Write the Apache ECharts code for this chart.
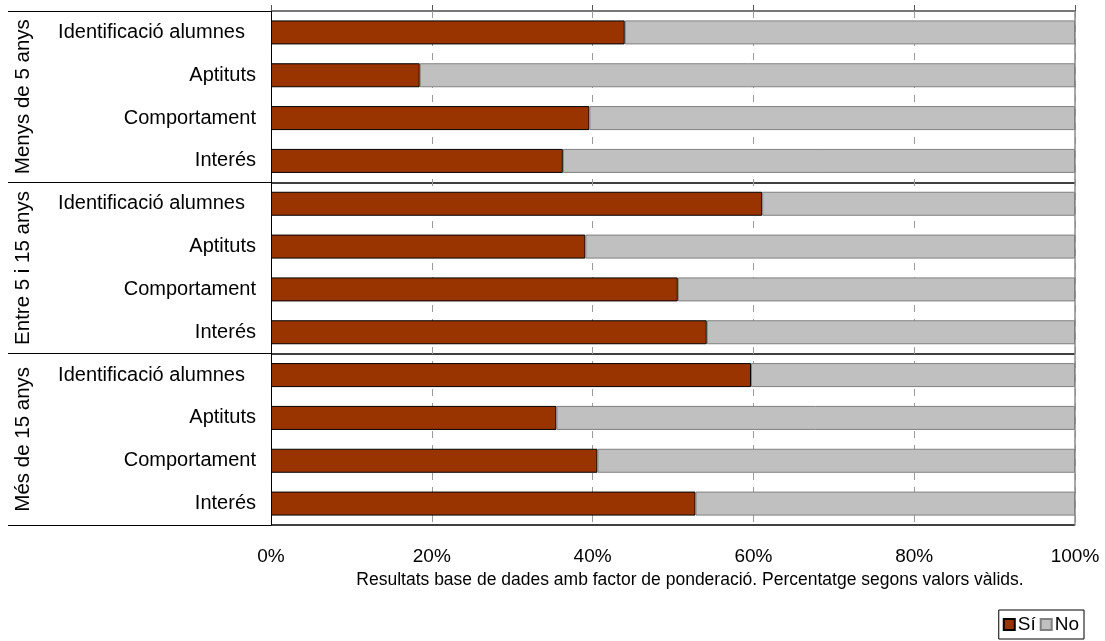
<!DOCTYPE html>
<html>
<head>
<meta charset="utf-8">
<script src="https://cdn.jsdelivr.net/npm/echarts@6/dist/echarts.min.js"></script>
<style>
  html, body { margin: 0; padding: 0; background: #fff; }
  #chart { width: 1105px; height: 641px; }
</style>
</head>
<body>
<div id="chart"></div>
<script>
// Age groups (outer band) and the four items asked in each group
const groups = ['Menys de 5 anys', 'Entre 5 i 15 anys', 'Més de 15 anys'];
const items = ['Identificació alumnes', 'Aptituts', 'Comportament', 'Interés'];

// Row labels, one per bar, top to bottom
const rowLabels = [
  'Identificació alumnes', 'Aptituts', 'Comportament', 'Interés',
  'Identificació alumnes', 'Aptituts', 'Comportament', 'Interés',
  'Identificació alumnes', 'Aptituts', 'Comportament', 'Interés'
];

// Percentages per row (Sí / No)
const siValues = [44.0, 18.5, 39.6, 36.3, 61.1, 39.1, 50.6, 54.2, 59.7, 35.5, 40.6, 52.8];
const noValues = [56.0, 81.5, 60.4, 63.7, 38.9, 60.9, 49.4, 45.8, 40.3, 64.5, 59.4, 47.2];

const xTicks = [0, 20, 40, 60, 80, 100];
const caption = 'Resultats base de dades amb factor de ponderació. Percentatge segons valors vàlids.';

const FONT = "'Liberation Sans', Arial, sans-serif";

const chart = echarts.init(document.getElementById('chart'), null, { renderer: 'canvas' });

chart.setOption({
  backgroundColor: '#ffffff',
  animation: false,
  textStyle: { fontFamily: FONT, color: '#000' },
  grid: { left: 271, right: 30, top: 11, bottom: 116, containLabel: false },
  legend: {
    right: 21,
    bottom: 2,
    orient: 'horizontal',
    icon: 'rect',
    itemWidth: 11,
    itemHeight: 11,
    itemGap: 4,
    borderColor: '#000',
    borderWidth: 1,
    padding: [5, 5, 5, 4],
    textStyle: { fontFamily: FONT, fontSize: 19, color: '#000', padding: [0, 0, 0, -2] },
    data: ['Sí', 'No']
  },
  xAxis: [
    {
      type: 'value',
      position: 'bottom',
      min: xTicks[0],
      max: xTicks[xTicks.length - 1],
      interval: 20,
      axisLine: { show: false },
      axisTick: { show: false },
      axisLabel: {
        formatter: '{value}%',
        fontFamily: FONT,
        fontSize: 19,
        color: '#000',
        margin: 22
      },
      splitLine: {
        show: true,
        lineStyle: { color: '#9a9a9a', width: 1, type: [7, 7] }
      }
    },
    {
      // short tick marks above the top edge
      type: 'value',
      position: 'top',
      min: xTicks[0],
      max: xTicks[xTicks.length - 1],
      interval: 20,
      axisLine: { show: false },
      axisTick: { show: true, length: 6, lineStyle: { color: '#555', width: 1 } },
      axisLabel: { show: false },
      splitLine: { show: false }
    }
  ],
  yAxis: [
    {
      type: 'category',
      inverse: true,
      data: rowLabels,
      position: 'left',
      axisLine: { show: true, lineStyle: { color: '#000', width: 1 } },
      axisTick: { show: false },
      axisLabel: {
        interval: 0,
        fontFamily: FONT,
        fontSize: 20,
        color: '#000',
        margin: 15,
        // the first item of each group carries a little trailing room
        formatter: function (v) { return v === items[0] ? v + '  ' : v; }
      },
      splitLine: { show: false }
    },
    {
      // age group band: rotated labels, separators across the whole width
      type: 'category',
      inverse: true,
      data: groups,
      position: 'left',
      axisLine: { show: false },
      axisTick: {
        show: true,
        interval: 0,
        alignWithLabel: false,
        length: 263,
        lineStyle: { color: '#000', width: 1 }
      },
      axisLabel: {
        interval: 0,
        rotate: 90,
        fontFamily: FONT,
        fontSize: 20.5,
        color: '#000',
        margin: 248,
        align: 'center',
        verticalAlign: 'middle'
      },
      splitLine: {
        show: true,
        interval: 0,
        lineStyle: { color: ['#4a4a4a', '#000', '#000', '#000'], width: 1.5 }
      }
    },
    {
      // solid right edge at 100%
      type: 'category',
      inverse: true,
      data: groups,
      position: 'right',
      axisLine: { show: true, lineStyle: { color: '#8c8c8c', width: 1.5 } },
      axisTick: { show: false },
      axisLabel: { show: false },
      splitLine: { show: false }
    }
  ],
  series: [
    {
      name: 'Sí',
      type: 'bar',
      stack: 'total',
      xAxisIndex: 0,
      yAxisIndex: 0,
      barWidth: 24,
      data: siValues,
      itemStyle: { color: '#993300', borderColor: '#000', borderWidth: 1 },
      emphasis: { disabled: true }
    },
    {
      name: 'No',
      type: 'bar',
      stack: 'total',
      xAxisIndex: 0,
      yAxisIndex: 0,
      barWidth: 24,
      data: noValues,
      itemStyle: { color: '#c0c0c0', borderColor: '#808080', borderWidth: 1 },
      emphasis: { disabled: true }
    }
  ],
  graphic: [
    {
      type: 'text',
      x: 690,
      y: 580,
      style: {
        text: caption,
        fontFamily: FONT,
        fontSize: 17.5,
        fill: '#000',
        align: 'center',
        verticalAlign: 'middle'
      }
    }
  ]
});
</script>
</body>
</html>
